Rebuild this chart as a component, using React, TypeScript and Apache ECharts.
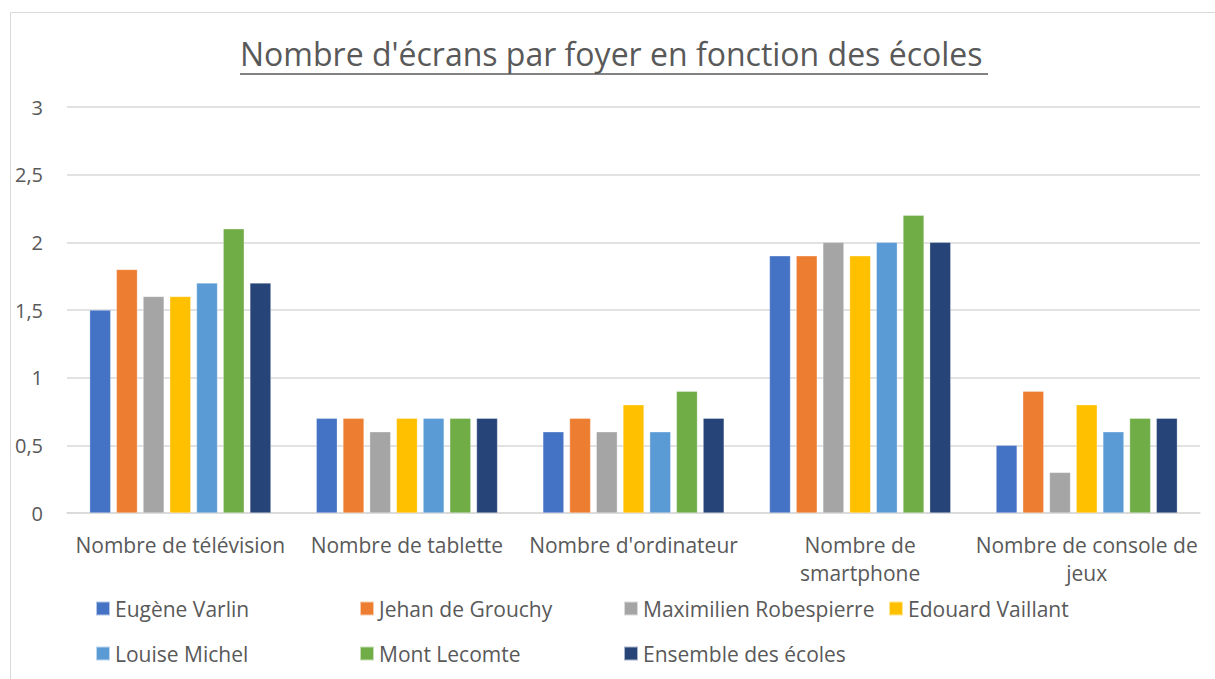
import React, { useEffect, useRef } from "react";
import * as echarts from "echarts";

const categories = [
  "Nombre de télévision",
  "Nombre de tablette",
  "Nombre d'ordinateur",
  "Nombre de\nsmartphone",
  "Nombre de console de\njeux",
];

const seriesNames = [
  "Eugène Varlin",
  "Jehan de Grouchy",
  "Maximilien Robespierre",
  "Edouard Vaillant",
  "Louise Michel",
  "Mont Lecomte",
  "Ensemble des écoles",
];

const eugeneVarlin = [1.5, 0.7, 0.6, 1.9, 0.5];
const jehanDeGrouchy = [1.8, 0.7, 0.7, 1.9, 0.9];
const maximilienRobespierre = [1.6, 0.6, 0.6, 2.0, 0.3];
const edouardVaillant = [1.6, 0.7, 0.8, 1.9, 0.8];
const louiseMichel = [1.7, 0.7, 0.6, 2.0, 0.6];
const montLecomte = [2.1, 0.7, 0.9, 2.2, 0.7];
const ensembleEcoles = [1.7, 0.7, 0.7, 2.0, 0.7];

const seriesValues = [
  eugeneVarlin,
  jehanDeGrouchy,
  maximilienRobespierre,
  edouardVaillant,
  louiseMichel,
  montLecomte,
  ensembleEcoles,
];

const colors = ["#4472C4", "#ED7D31", "#A5A5A5", "#FFC000", "#5B9BD5", "#70AD47", "#264478"];

const titleText = "Nombre d'écrans par foyer en fonction des écoles";

const FONT = "'Open Sans', sans-serif";
const TEXT = "#595959";

const legendPos = [
  [95, 598],
  [359, 598],
  [623, 598],
  [888, 598],
  [95, 643],
  [359, 643],
  [623, 643],
];

export default function App() {
  const ref = useRef<HTMLDivElement>(null);
  useEffect(() => {
    if (!ref.current) return;
    const chart = echarts.init(ref.current, null, { renderer: "svg" });
    chart.setOption({
      animation: false,
      color: colors,
      title: {
        text: titleText,
        left: 240,
        top: 37,
        padding: 0,
        textStyle: { fontFamily: FONT, fontSize: 32, fontWeight: "normal", color: TEXT },
      },
      graphic: [
        {
          type: "rect",
          shape: { x: 10.5, y: 12.5, width: 1400, height: 900 },
          style: { fill: "none", stroke: "#D9D9D9", lineWidth: 1 },
          silent: true,
        },
        {
          type: "line",
          shape: { x1: 240, y1: 74, x2: 988, y2: 74 },
          style: { stroke: TEXT, lineWidth: 1.5 },
          silent: true,
        },
      ],
      legend: seriesNames.map((n, i) => ({
        data: [n],
        left: legendPos[i][0],
        top: legendPos[i][1],
        padding: 0,
        itemWidth: 14,
        itemHeight: 14,
        icon: "rect",
        textStyle: { fontFamily: FONT, fontSize: 21, color: TEXT },
        selectedMode: false,
      })),
      grid: { left: 67, right: 15, top: 107, bottom: 166, containLabel: false },
      xAxis: {
        type: "category",
        data: categories,
        axisLine: { lineStyle: { color: "#D9D9D9", width: 1.5 } },
        axisTick: { show: false },
        axisLabel: {
          fontFamily: FONT,
          fontSize: 21,
          color: TEXT,
          margin: 18,
          lineHeight: 28,
          interval: 0,
        },
      },
      yAxis: {
        type: "value",
        min: 0,
        max: 3,
        interval: 0.5,
        axisLine: { show: false },
        axisTick: { show: false },
        splitLine: { lineStyle: { color: "#D9D9D9", width: 1.5 } },
        axisLabel: {
          fontFamily: FONT,
          fontSize: 20,
          color: TEXT,
          margin: 24,
          formatter: (v: number) => String(v).replace(".", ","),
        },
      },
      series: seriesNames.map((n, i) => ({
        name: n,
        type: "bar",
        data: seriesValues[i],
        barGap: "27%",
        barCategoryGap: "20%",
        itemStyle: { color: colors[i], borderColor: "rgba(255,255,255,0.6)", borderWidth: 0.5 },
      })),
    });
    return () => chart.dispose();
  }, []);
  return (
    <div
      ref={ref}
      style={{ position: "absolute", left: 0, top: 0, width: 1215, height: 679, background: "#fff" }}
    />
  );
}
